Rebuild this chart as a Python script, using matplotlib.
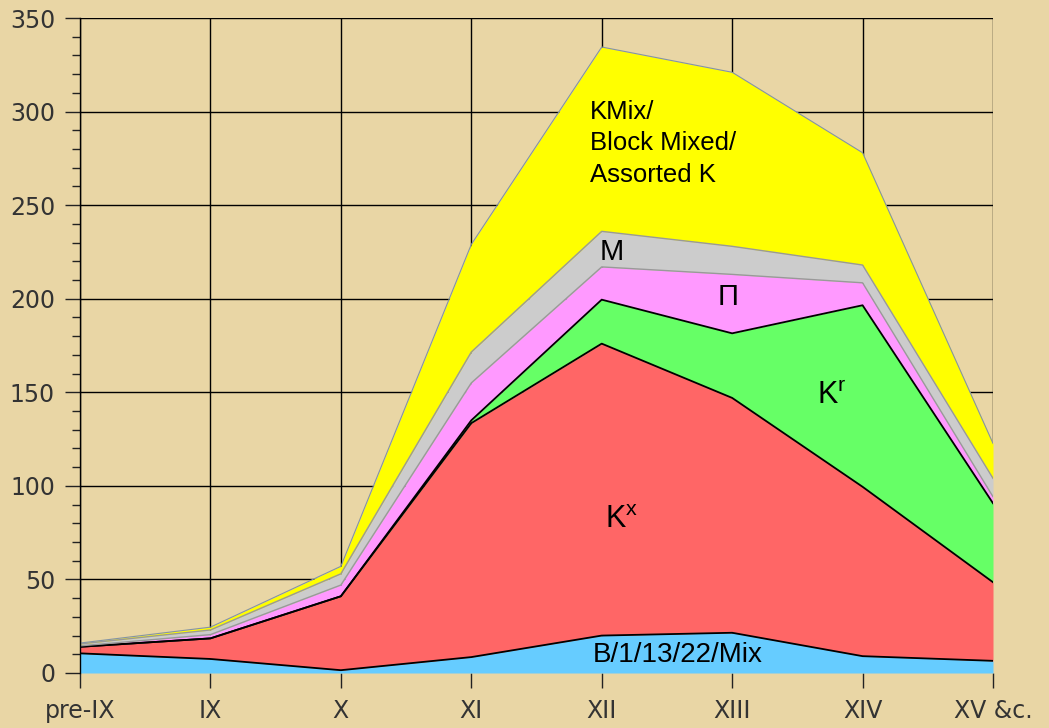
import numpy as np
import matplotlib
matplotlib.use("Agg")
import matplotlib.pyplot as plt
from matplotlib.ticker import MultipleLocator

# ---- data (values per layer, stacked bottom to top) ----
periods = ['pre-IX', 'IX', 'X', 'XI', 'XII', 'XIII', 'XIV', 'XV &c.']
b_mix   = [10.5, 7.5, 1.5, 8.5, 20.0, 21.5, 9.0, 6.5]
k_x     = [3.5, 11.0, 39.5, 125.0, 156.0, 125.5, 90.5, 42.0]
k_r     = [0.0, 0.0, 0.0, 1.5, 23.5, 34.5, 97.0, 42.2]
pi_grp  = [0.5, 2.0, 6.0, 20.0, 17.5, 31.5, 12.0, 3.5]
m_grp   = [1.0, 2.5, 6.0, 16.5, 19.0, 15.0, 9.5, 9.8]
kmix    = [0.5, 1.5, 4.0, 57.5, 98.5, 93.0, 60.0, 18.7]
y_ticks = [0, 50, 100, 150, 200, 250, 300, 350]

layers = [b_mix, k_x, k_r, pi_grp, m_grp, kmix]
colors = ['#66CCFF', '#FF6666', '#66FF66', '#FF99FF', '#CCCCCC', '#FFFF00']
edge_colors = ['black', 'black', 'black', '#999999', '#999999', '#8494a4']
edge_widths = [1.3, 1.3, 1.3, 1.0, 1.0, 0.8]

paper = '#E9D6A5'

fig = plt.figure(figsize=(10.49, 7.28), dpi=100, facecolor=paper)
ax = fig.add_axes([80/1049, 55/728, 913/1049, 655/728])
ax.set_facecolor(paper)

x = np.arange(len(periods))
ax.set_xlim(0, len(periods) - 1)
ax.set_ylim(0, 350)

# grid beneath areas
ax.set_axisbelow(True)
ax.grid(True, which='major', color='black', linewidth=1.0)

bottom = np.zeros(len(periods))
tops = []
for vals, c in zip(layers, colors):
    top = bottom + np.array(vals)
    ax.fill_between(x, bottom, top, color=c, linewidth=0, zorder=2)
    tops.append(top)
    bottom = top
for top, ec, ew in zip(tops, edge_colors, edge_widths):
    ax.plot(x, top, color=ec, linewidth=ew, zorder=3)

# axes styling
for s in ['top', 'right', 'bottom']:
    ax.spines[s].set_visible(False)
ax.spines['left'].set_color('black')
ax.spines['left'].set_linewidth(1.0)
ax.spines['left'].set_zorder(4)

ax.set_xticks(x)
ax.set_xticklabels(periods)
ax.set_yticks(y_ticks)
ax.yaxis.set_minor_locator(MultipleLocator(10))
ax.tick_params(axis='both', which='major', direction='out', color='#222222',
               labelcolor='#333333', labelsize=17, width=1.0)
ax.tick_params(axis='y', which='major', length=11, pad=7)
ax.tick_params(axis='x', which='major', length=11, pad=8)
ax.tick_params(axis='y', which='minor', length=6, width=1.0, color='#222222')
for lab in ax.get_xticklabels() + ax.get_yticklabels():
    lab.set_family('DejaVu Sans')

# labels
lf = 'Liberation Sans'
ax.text(3.91, 283, 'KMix/\nBlock Mixed/\nAssorted K', ha='left', va='center',
        fontsize=18.5, family=lf, linespacing=1.4, zorder=5)
ax.text(4.08, 225, 'M', ha='center', va='center', fontsize=21, family=lf, zorder=5)
ax.text(4.97, 201, 'Π', ha='center', va='center', fontsize=21, family=lf, zorder=5)
ax.text(5.76, 148, r'$\mathregular{K^r}$', ha='center', va='center', fontsize=22,
        family=lf, zorder=5)
ax.text(4.15, 82, r'$\mathregular{K^x}$', ha='center', va='center', fontsize=22,
        family=lf, zorder=5)
ax.text(4.585, 9.6, 'B/1/13/22/Mix', ha='center', va='center', fontsize=20,
        family=lf, zorder=5)

fig.savefig('out.png', dpi=100, facecolor=paper)
